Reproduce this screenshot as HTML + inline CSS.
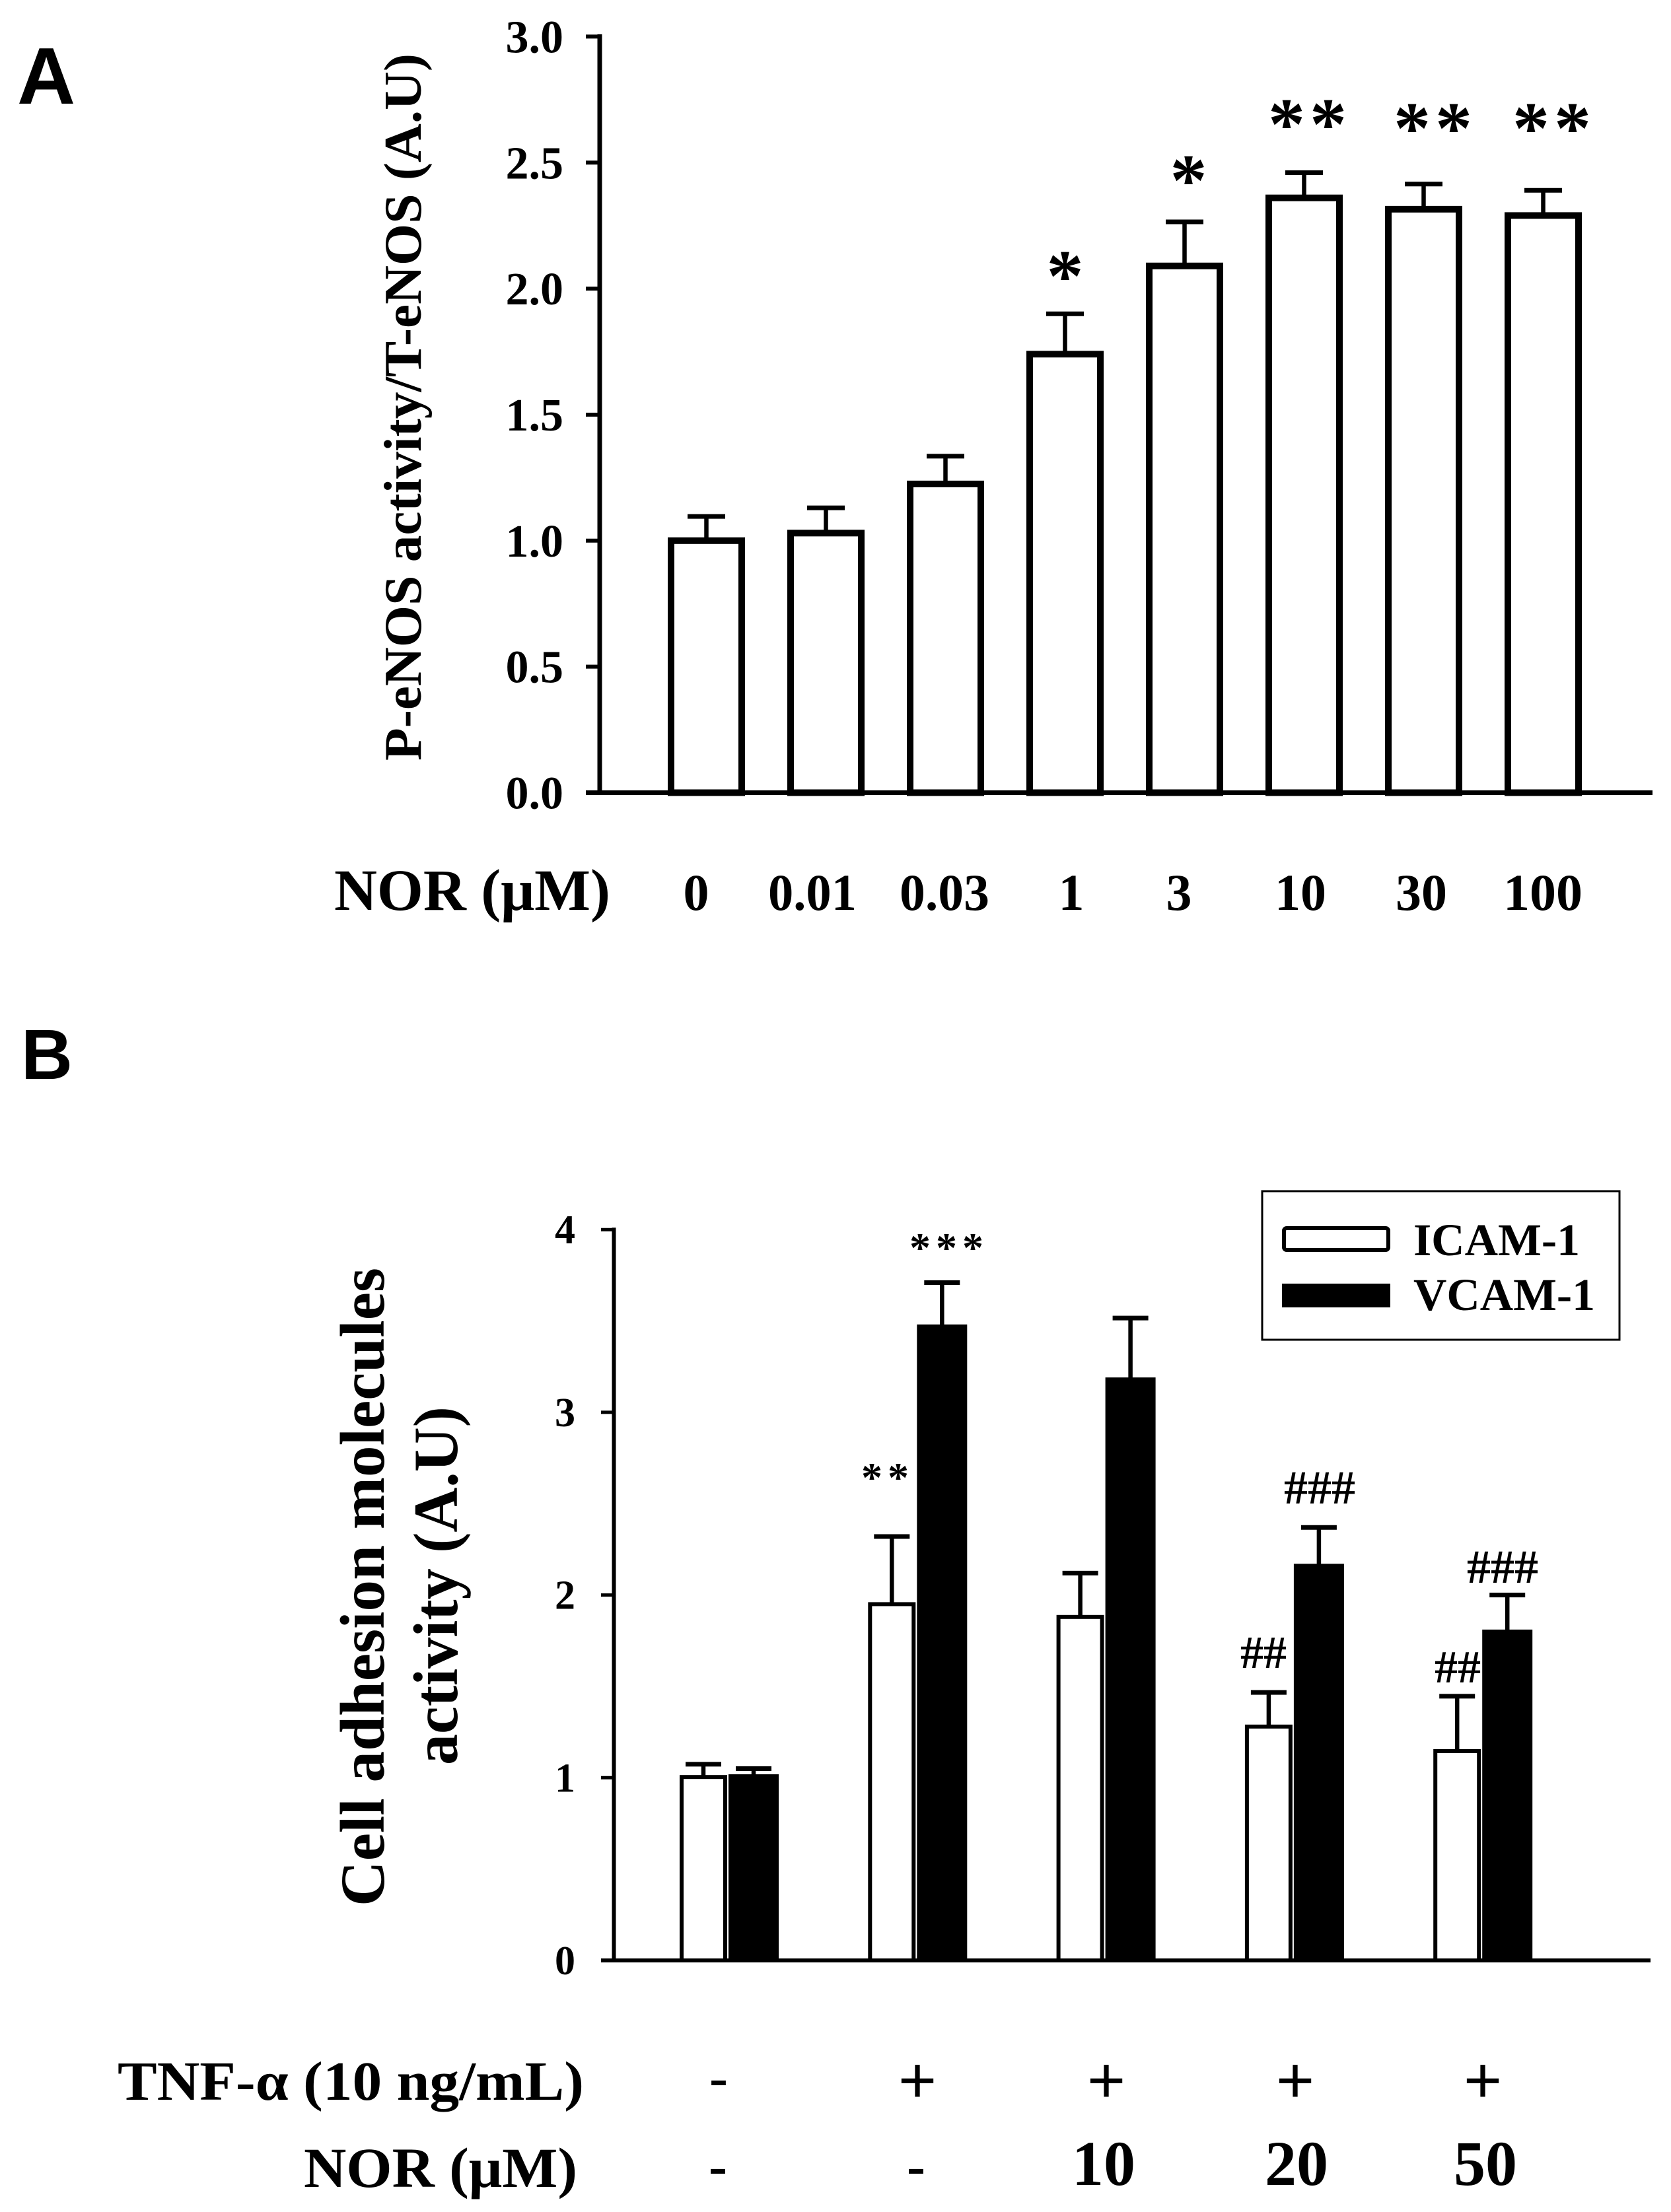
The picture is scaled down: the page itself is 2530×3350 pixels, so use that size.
<!DOCTYPE html>
<html lang="en">
<head>
<meta charset="utf-8">
<title>P-eNOS and cell adhesion molecule activity</title>
<style>
html,body{margin:0;padding:0;background:#fff;width:2530px;height:3350px;overflow:hidden}
svg{display:block}
text{font-family:"Liberation Serif",serif;font-weight:700;fill:#000}
.panel{font-family:"Liberation Sans",sans-serif;font-weight:700}
</style>
</head>
<body>
<svg id="figure" xmlns="http://www.w3.org/2000/svg" width="2530" height="3350" viewBox="0 0 2530 3350">
  <rect x="0" y="0" width="2530" height="3350" fill="#fff"/>

  <text class="panel" x="26" y="157" font-size="122">A</text>
  <text class="panel" x="32" y="1634" font-size="108">B</text>

  <text transform="translate(637 1152) rotate(-90)" font-size="81" textLength="1071" lengthAdjust="spacingAndGlyphs">P-eNOS activity/T-eNOS (A.U)</text>

  <g font-size="78" text-anchor="middle">
    <text x="715" y="1378" font-size="89" textLength="418" lengthAdjust="spacingAndGlyphs">NOR (μM)</text>
    <text x="1054" y="1378">0</text>
    <text x="1230" y="1378" textLength="134" lengthAdjust="spacingAndGlyphs">0.01</text>
    <text x="1430" y="1378" textLength="136" lengthAdjust="spacingAndGlyphs">0.03</text>
    <text x="1622" y="1378">1</text>
    <text x="1785" y="1378">3</text>
    <text x="1969" y="1378">10</text>
    <text x="2152" y="1378">30</text>
    <text x="2336" y="1378" textLength="120" lengthAdjust="spacingAndGlyphs">100</text>
  </g>

  <g font-size="112" text-anchor="middle" letter-spacing="7">
    <text x="1616" y="456">*</text>
    <text x="1803" y="311">*</text>
    <text x="1983" y="226">**</text>
    <text x="2173" y="232">**</text>
    <text x="2353" y="232">**</text>
  </g>

  <g id="panelA"></g>

  <text transform="translate(581 2887) rotate(-90)" font-size="95" textLength="967" lengthAdjust="spacingAndGlyphs">Cell adhesion molecules</text>
  <text transform="translate(692 2673) rotate(-90)" font-size="95" textLength="543" lengthAdjust="spacingAndGlyphs">activity (A.U)</text>

  <g text-anchor="middle">
    <text x="1344" y="2259" font-size="64" letter-spacing="8">**</text>
    <text x="1437" y="1911" font-size="64" letter-spacing="8">***</text>
    <text x="1913" y="2526" font-size="70">##</text>
    <text x="1998" y="2277" font-size="72">###</text>
    <text x="2207" y="2548" font-size="70">##</text>
    <text x="2275" y="2397" font-size="72">###</text>
  </g>

  <g id="panelB"></g>

  <g>
    <rect x="1911" y="1804" width="541" height="225" fill="none" stroke="#000" stroke-width="3"/>
    <rect x="1944" y="1860" width="158" height="33" rx="4" fill="#fff" stroke="#000" stroke-width="6"/>
    <rect x="1941" y="1944" width="164" height="36" fill="#000"/>
    <text x="2140" y="1901" font-size="69" textLength="252" lengthAdjust="spacingAndGlyphs">ICAM-1</text>
    <text x="2140" y="1984" font-size="69" textLength="275" lengthAdjust="spacingAndGlyphs">VCAM-1</text>
  </g>

  <g text-anchor="middle">
    <text x="178" y="3180" font-size="84" text-anchor="start" textLength="706" lengthAdjust="spacingAndGlyphs">TNF-α (10 ng/mL)</text>
    <text x="460" y="3312" font-size="86" text-anchor="start" textLength="414" lengthAdjust="spacingAndGlyphs">NOR (μM)</text>
    <text x="1088" y="3174" font-size="84">-</text>
    <text x="1389" y="3186" font-size="104">+</text>
    <text x="1675" y="3186" font-size="104">+</text>
    <text x="1961" y="3186" font-size="104">+</text>
    <text x="2245" y="3186" font-size="104">+</text>
    <text x="1087" y="3308" font-size="84">-</text>
    <text x="1387" y="3308" font-size="84">-</text>
    <text x="1671" y="3309" font-size="96">10</text>
    <text x="1963" y="3309" font-size="96">20</text>
    <text x="2249" y="3309" font-size="96">50</text>
  </g>
</svg>

<script>
// Panel A data
const aCategories = ['0', '0.01', '0.03', '1', '3', '10', '30', '100'];
const aMeans = [1.00, 1.03, 1.225, 1.74, 2.09, 2.36, 2.315, 2.29];
const aErrors = [0.096, 0.10, 0.11, 0.16, 0.175, 0.10, 0.10, 0.10];
const aTicks = [0, 0.5, 1, 1.5, 2, 2.5, 3];
const aTickLabels = ['0.0', '0.5', '1.0', '1.5', '2.0', '2.5', '3.0'];

// Panel B data
const bGroups = ['control', 'tnf', 'tnf-nor-10', 'tnf-nor-20', 'tnf-nor-50'];
const bIcam = [1.004, 1.95, 1.88, 1.28, 1.146];
const bIcamErrors = [0.07, 0.37, 0.24, 0.187, 0.30];
const bVcam = [1.008, 3.47, 3.18, 2.16, 1.80];
const bVcamErrors = [0.042, 0.24, 0.336, 0.21, 0.20];
const bTicks = [0, 1, 2, 3, 4];
const bTickLabels = ['0', '1', '2', '3', '4'];

const SVG_NS = 'http://www.w3.org/2000/svg';
function make(parent, tag, attrs) {
  const el = document.createElementNS(SVG_NS, tag);
  for (const k in attrs) el.setAttribute(k, attrs[k]);
  parent.appendChild(el);
  return el;
}

// Axis functions
const yA = v => 1200.5 - v * 381.7;
const xA = i => 1069.5 + i * 181;
const yB = v => 2969 - v * 276.7;
const xB = i => 1029 + i * 285.3;

function drawAxes(g, prefix, yFn, ticks, labels, axisX, tickX, rightX, topV, labelX, fontSize, baseOffset, sw) {
  const yAxis = make(g, 'line', {x1: axisX, x2: axisX, y1: yFn(topV) - sw / 2, y2: yFn(0), stroke: '#000', 'stroke-width': sw});
  
  
  const xAxis = make(g, 'line', {x1: tickX, x2: rightX, y1: yFn(0), y2: yFn(0), stroke: '#000', 'stroke-width': sw});
  
  
  ticks.forEach((t, i) => {
    if (t !== 0) {
      const tick = make(g, 'line', {x1: tickX, x2: axisX, y1: yFn(t), y2: yFn(t), stroke: '#000', 'stroke-width': sw - 1});
      
      
    }
    const label = make(g, 'text', {x: labelX, y: yFn(t) + baseOffset, 'text-anchor': 'end', 'font-size': fontSize});
    label.textContent = labels[i];
    
    
  });
}

function drawError(g, name, cx, yTop, yEnd, capW, sw) {
  const stem = make(g, 'line', {x1: cx, x2: cx, y1: yTop, y2: yEnd, stroke: '#000', 'stroke-width': sw});
  
  
  const cap = make(g, 'line', {x1: cx - capW / 2, x2: cx + capW / 2, y1: yTop, y2: yTop, stroke: '#000', 'stroke-width': sw + 0.5});
  
  
}

const gA = document.getElementById('panelA');
drawAxes(gA, 'panel-a', yA, aTicks, aTickLabels, 908, 887, 2502, 3, 853, 70, 24, 7);
aCategories.forEach((c, i) => {
  const w = 107, cx = xA(i);
  drawError(gA, 'panel-a-dose-' + c, cx, yA(aMeans[i] + aErrors[i]), yA(aMeans[i]), 57, 6.5);
  const bar = make(gA, 'rect', {x: cx - w / 2, y: yA(aMeans[i]), width: w, height: yA(0) - yA(aMeans[i]), fill: '#fff', stroke: '#000', 'stroke-width': 10});
  
  
});

const gB = document.getElementById('panelB');
drawAxes(gB, 'panel-b', yB, bTicks, bTickLabels, 929.5, 910, 2499, 4, 871, 62, 21, 6);
bGroups.forEach((c, i) => {
  const wI = 66, wV = 70, left = xB(i);
  const cxI = left + 3 + wI / 2;
  drawError(gB, 'panel-b-icam-' + c, cxI, yB(bIcam[i] + bIcamErrors[i]), yB(bIcam[i]), 54, 6.5);
  const barI = make(gB, 'rect', {x: left + 3, y: yB(bIcam[i]), width: wI, height: yB(0) - yB(bIcam[i]), fill: '#fff', stroke: '#000', 'stroke-width': 6});
  
  
  const cxV = left + 74 + 3 + wV / 2;
  drawError(gB, 'panel-b-vcam-' + c, cxV, yB(bVcam[i] + bVcamErrors[i]), yB(bVcam[i]), 54, 6.5);
  const barV = make(gB, 'rect', {x: left + 77, y: yB(bVcam[i]), width: wV, height: yB(0) - yB(bVcam[i]), fill: '#000', stroke: '#000', 'stroke-width': 6});
  
  
});
</script>
</body>
</html>
